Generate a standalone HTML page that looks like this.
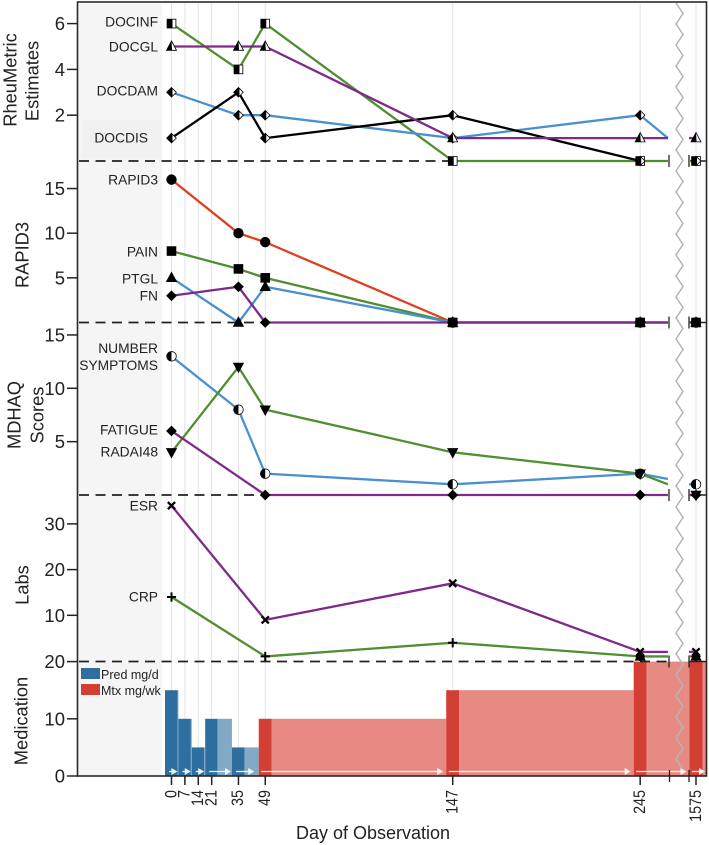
<!DOCTYPE html>
<html>
<head>
<meta charset="utf-8">
<title>Patient observation chart</title>
<style>
html,body{margin:0;padding:0;background:#fff;width:709px;height:845px;overflow:hidden}
svg{display:block}
text{font-family:"Liberation Sans",sans-serif;fill:#222}
</style>
</head>
<body>
<svg id="chart" width="709" height="845" viewBox="0 0 709 845" xmlns="http://www.w3.org/2000/svg"></svg>
<script>
// ---- Data ----
const gridDays = [0, 7, 14, 21, 35, 49, 147, 245, 1575];
const xTickLabels = ['0', '7', '14', '21', '35', '49', '147', '245', '1575'];
const obsDays = [0, 35, 49, 147, 245, 1575];
const labObsDays = [0, 49, 147, 245, 1575];
const lastDayBeforeBreak = 259.5;

const docinfValues = [6, 4, 6, 0, 0, 0];
const docglValues = [5, 5, 5, 1, 1, 1];
const docdamValues = [3, 2, 2, 1, 2, null];
const docdisValues = [1, 3, 1, 2, 0, 0];

const rapid3Values = [16, 10, 9, 0, 0, 0];
const painValues = [8, 6, 5, 0, 0, 0];
const ptglValues = [5, 0, 4, 0, 0, 0];
const fnValues = [3, 4, 0, 0, 0, 0];

const symptomsValues = [13, 8, 2, 1, 2, 1];
const radaiValues = [4, 12, 8, 4, 2, 0];
const fatigueValues = [6, null, 0, 0, 0, 0];

const esrValues = [34, 9, 17, 2, 2];
const crpValues = [14, 1, 4, 1, 1];

const predDays = [0, 7, 14, 21, 35];
const predDoses = [15, 10, 5, 10, 5];
const predEndDay = 49;
const mtxDays = [49, 147, 245, 1575];
const mtxDoses = [10, 15, 20, 20];

const rheumTicks = [6, 4, 2];
const rapidTicks = [15, 10, 5];
const mdhaqTicks = [15, 10, 5];
const labTicks = [30, 20, 10];
const medTicks = [20, 10, 0];

// ---- Scales ----
const x = d => d > 1000 ? 696 + (d - 1575) * 1.913 : 171.5 + d * 1.913;
const yRheum = v => 161 - v * 22.9;
const yRapid = v => 322.5 - v * 8.93;
const yMdhaq = v => 495 - v * 10.67;
const yLab = v => 661 - v * 4.57;
const yMed = v => 776 - v * 5.72;

const C = {green:'#4f8f2f', purple:'#7f2a8a', blue:'#4a90d0', red:'#e0401f', black:'#000'};
const svg = document.getElementById('chart');
const NS = 'http://www.w3.org/2000/svg';
function mk(tag, attrs, parent) {
  const el = document.createElementNS(NS, tag);
  for (const k in attrs) el.setAttribute(k, attrs[k]);
  (parent || svg).appendChild(el);
  return el;
}
function label(txt, px, py, size, anchor, name, rot, squeeze) {
  const el = mk('text', {x: px, y: py, 'font-size': size, 'text-anchor': anchor, 'dominant-baseline': 'central'});
  if (rot && squeeze) {
    el.setAttribute('x', 0);
    el.setAttribute('y', 0);
    el.setAttribute('transform', 'translate(' + px + ' ' + py + ') rotate(-90) scale(' + squeeze + ' 1)');
  } else if (rot) {
    el.setAttribute('transform', 'rotate(-90 ' + px + ' ' + py + ')');
  }
  el.textContent = txt;
  
  
  return el;
}

// ---- Background ----
const leftBand = mk('rect', {x: 78, y: 4, width: 84, height: 772, fill: '#f5f5f5'});


const docdisBand = mk('rect', {x: 82, y: 120, width: 80, height: 38, fill: '#f1f1f1'});



gridDays.forEach((d, i) => {
  const g = mk('line', {x1: x(d), x2: x(d), y1: 3, y2: 776, stroke: '#e4e4e4', 'stroke-width': 1});
  
  
});

// ---- Medication bars ----
const PRED_DARK = '#2f6f9f', PRED_LIGHT = '#82aac6', MTX_DARK = '#d43f33', MTX_LIGHT = '#e78a84';
const HALF = 6.5;
function bar(x0, x1, dose, fill, name) {
  const b = mk('rect', {x: x0, y: yMed(dose), width: Math.max(0, x1 - x0), height: yMed(0) - yMed(dose), fill: fill});
  
  
}
predDays.forEach((d, i) => {
  const next = i + 1 < predDays.length ? x(predDays[i + 1]) - HALF : x(predEndDay) - HALF;
  bar(x(d) - HALF, x(d) + HALF - 0.5, predDoses[i], PRED_DARK, 'pred-bar-day-' + d);
  bar(x(d) + HALF - 0.5, next, predDoses[i], PRED_LIGHT, 'pred-taper-day-' + d);
});
mtxDays.forEach((d, i) => {
  const next = i + 1 < mtxDays.length ? x(mtxDays[i + 1]) - HALF : 706;
  bar(x(d) - HALF, x(d) + HALF, mtxDoses[i], MTX_DARK, 'mtx-bar-day-' + d);
  bar(x(d) + HALF, next, mtxDoses[i], MTX_LIGHT, 'mtx-span-day-' + d);
});

// duration arrows
function arrow(x0, x1, name) {
  const g = mk('g', {});
  
  
  mk('line', {x1: x0, x2: x1 - 3, y1: 771.5, y2: 771.5, stroke: '#fff', 'stroke-width': 1.3, opacity: .9}, g);
  mk('polygon', {points: (x1 - 6) + ',768 ' + x1 + ',771.5 ' + (x1 - 6) + ',775', fill: '#fff', opacity: .9}, g);
}
predDays.forEach((d, i) => {
  const end = i + 1 < predDays.length ? x(predDays[i + 1]) - 7.5 : x(predEndDay) - 11;
  arrow(x(d) - 2.5, end, 'pred-arrow-day-' + d);
});
mtxDays.forEach((d, i) => {
  const end = i + 1 < mtxDays.length ? x(mtxDays[i + 1]) - 9.5 : 705;
  arrow(x(d) - 4, end, 'mtx-arrow-day-' + d);
});

// ---- Break squiggle ----
let zig = '';
for (let yy = 3, k = 0; yy <= 776; yy += 10.5, k++) zig += (k % 2 ? 683 : 676) + ',' + yy + ' ';
const squiggle = mk('polyline', {points: zig, fill: 'none', stroke: '#b4b4b4', 'stroke-width': 1.5});



// ---- Zero lines ----
[161, 322.5, 495, 661.5].forEach((yy, i) => {
  const g = mk('g', {});
  
  
  mk('line', {x1: 79, x2: 669, y1: yy, y2: yy, stroke: '#222', 'stroke-width': 1.8, 'stroke-dasharray': '10 6.5'}, g);
  mk('line', {x1: 689, x2: 706, y1: yy, y2: yy, stroke: '#222', 'stroke-width': 1.5}, g);
  mk('line', {x1: 669, x2: 669, y1: yy - 6, y2: yy + 6, stroke: '#222', 'stroke-width': 1.3}, g);
  mk('line', {x1: 689, x2: 689, y1: yy - 6, y2: yy + 6, stroke: '#222', 'stroke-width': 1.3}, g);
});

// ---- Marker drawing ----
function marker(kind, half, px, py, name) {
  const g = mk('g', {});
  
  
  const st = {stroke: '#000', 'stroke-width': 0.8};
  const fillWhole = half ? '#fff' : '#000';
  const s = 4.4;
  const cut = px + 1;
  if (kind === 'square') {
    mk('rect', Object.assign({x: px - s, y: py - s, width: 2 * s, height: 2 * s, fill: fillWhole}, st), g);
    if (half) mk('rect', {x: px - s, y: py - s, width: s + 1, height: 2 * s, fill: '#000'}, g);
  } else if (kind === 'triangle') {
    mk('polygon', Object.assign({points: px + ',' + (py - 5.5) + ' ' + (px + 5) + ',' + (py + 3.8) + ' ' + (px - 5) + ',' + (py + 3.8), fill: fillWhole}, st), g);
    if (half) mk('polygon', {points: px + ',' + (py - 5.5) + ' ' + (px + 0.6) + ',' + (py + 3.8) + ' ' + (px - 5) + ',' + (py + 3.8), fill: '#000'}, g);
  } else if (kind === 'down') {
    mk('polygon', Object.assign({points: px + ',' + (py + 5.5) + ' ' + (px + 5) + ',' + (py - 3.8) + ' ' + (px - 5) + ',' + (py - 3.8), fill: '#000'}, st), g);
  } else if (kind === 'diamond') {
    mk('polygon', Object.assign({points: px + ',' + (py - 4.8) + ' ' + (px + 4.8) + ',' + py + ' ' + px + ',' + (py + 4.8) + ' ' + (px - 4.8) + ',' + py, fill: fillWhole}, st), g);
    if (half) mk('polygon', {points: px + ',' + (py - 4.8) + ' ' + cut + ',' + (py - 3.8) + ' ' + cut + ',' + (py + 3.8) + ' ' + px + ',' + (py + 4.8) + ' ' + (px - 4.8) + ',' + py, fill: '#000'}, g);
  } else if (kind === 'circle') {
    mk('circle', Object.assign({cx: px, cy: py, r: 4.8, fill: fillWhole}, st), g);
    if (half) mk('path', {d: 'M' + px + ' ' + (py - 4.8) + 'A4.8 4.8 0 0 0 ' + px + ' ' + (py + 4.8) + 'Z', fill: '#000'}, g);
  } else if (kind === 'x') {
    mk('path', {d: 'M' + (px - 3.6) + ' ' + (py - 3.6) + 'L' + (px + 3.6) + ' ' + (py + 3.6) + 'M' + (px + 3.6) + ' ' + (py - 3.6) + 'L' + (px - 3.6) + ' ' + (py + 3.6), stroke: '#000', 'stroke-width': 2.3, fill: 'none'}, g);
  } else if (kind === 'plus') {
    mk('path', {d: 'M' + (px - 4.6) + ' ' + py + 'L' + (px + 4.6) + ' ' + py + 'M' + px + ' ' + (py - 4.6) + 'L' + px + ' ' + (py + 4.6), stroke: '#000', 'stroke-width': 2, fill: 'none'}, g);
  }
}

// series: days, values, y scale, tail value at the break (null for none)
function series(name, days, values, y, color, kind, half, tail) {
  const pts = [];
  days.forEach((d, i) => { if (values[i] !== null && d < 1000) pts.push([x(d), y(values[i])]); });
  if (tail !== null) pts.push([x(lastDayBeforeBreak), y(tail)]);
  const line = mk('polyline', {points: pts.map(p => p.join(',')).join(' '), fill: 'none', stroke: color, 'stroke-width': 2.3, 'stroke-linejoin': 'round'});
  
  
  const lastIdx = days.length - 1;
  if (days[lastIdx] > 1000 && values[lastIdx] !== null && tail !== null) {
    const stub = mk('line', {x1: 689, x2: x(days[lastIdx]), y1: y(values[lastIdx]), y2: y(values[lastIdx]), stroke: color, 'stroke-width': 2.3});
    
    
  }
  return () => days.forEach((d, i) => {
    if (values[i] !== null) marker(kind, half, x(d), y(values[i]), name + '-marker-day-' + d);
  });
}

const markerPainters = [
  series('docinf', obsDays, docinfValues, yRheum, C.green, 'square', true, 0),
  series('docdam', obsDays, docdamValues, yRheum, C.blue, 'diamond', true, 1),
  series('docdis', obsDays, docdisValues, yRheum, C.black, 'diamond', true, null),
  series('docgl', obsDays, docglValues, yRheum, C.purple, 'triangle', true, 1),

  series('rapid3', obsDays, rapid3Values, yRapid, C.red, 'circle', false, 0),
  series('pain', obsDays, painValues, yRapid, C.green, 'square', false, 0),
  series('ptgl', obsDays, ptglValues, yRapid, C.blue, 'triangle', false, 0),
  series('fn', obsDays, fnValues, yRapid, C.purple, 'diamond', false, 0),

  series('number-symptoms', obsDays, symptomsValues, yMdhaq, C.blue, 'circle', true, 1.5),
  series('radai48', obsDays, radaiValues, yMdhaq, C.green, 'down', false, 1),
  series('fatigue', obsDays, fatigueValues, yMdhaq, C.purple, 'diamond', false, 0),

  series('esr', labObsDays, esrValues, yLab, C.purple, 'x', false, 2),
  series('crp', labObsDays, crpValues, yLab, C.green, 'plus', false, 1)
];
markerPainters.forEach(p => p());

// extra triangle-like mark seen on the far-right lab cluster
marker('triangle', false, x(245), yLab(1), 'crp-cap-day-245');
marker('triangle', false, x(1575), yLab(1), 'crp-cap-day-1575');

// ---- Frame ----
const frame = mk('rect', {x: 77.5, y: 2, width: 629, height: 774, fill: 'none', stroke: '#2a2a2a', 'stroke-width': 1.6});



// ---- Y axes ----
function yAxis(ticks, y, name) {
  ticks.forEach(t => {
    const tk = mk('line', {x1: 67, x2: 78, y1: y(t), y2: y(t), stroke: '#222', 'stroke-width': 1.5});
    
    
    label(String(t), 65, y(t), 18.5, 'end', name + '-tick-label-' + t);
  });
}
yAxis(rheumTicks, yRheum, 'rheumetric-axis');
yAxis(rapidTicks, yRapid, 'rapid3-axis');
yAxis(mdhaqTicks, yMdhaq, 'mdhaq-axis');
yAxis(labTicks, yLab, 'labs-axis');
yAxis(medTicks, yMed, 'medication-axis');

label('RheuMetric', 10, 80, 18.3, 'middle', 'rheumetric-title-line-1', true);
label('Estimates', 32, 81, 18.3, 'middle', 'rheumetric-title-line-2', true);
label('RAPID3', 22, 255, 18.3, 'middle', 'rapid3-title', true);
label('MDHAQ', 14, 415, 18.3, 'middle', 'mdhaq-title-line-1', true);
label('Scores', 37, 415, 18.3, 'middle', 'mdhaq-title-line-2', true);
label('Labs', 22, 585, 18.3, 'middle', 'labs-title', true);
label('Medication', 21, 721, 18.3, 'middle', 'medication-title', true);

// ---- Series labels ----
const seriesLabels = [
  ['DOCINF', 158, 22], ['DOCGL', 158, 47], ['DOCDAM', 158, 91], ['DOCDIS', 148, 138],
  ['RAPID3', 158, 180], ['PAIN', 158, 252], ['PTGL', 158, 279], ['FN', 158, 296],
  ['NUMBER', 158, 348.5], ['SYMPTOMS', 158, 365.5], ['FATIGUE', 158, 430], ['RADAI48', 158, 452],
  ['ESR', 158, 506], ['CRP', 158, 597]
];
seriesLabels.forEach(s => label(s[0], s[1], s[2], 13.8, 'end', 'series-label-' + s[0].toLowerCase()));

// ---- X axis ----
gridDays.forEach((d, i) => {
  const tk = mk('line', {x1: x(d), x2: x(d), y1: 776, y2: 785, stroke: '#222', 'stroke-width': 1.5});
  
  
  label(xTickLabels[i], x(d), 790, 16.3, 'end', 'x-tick-label-' + xTickLabels[i], true, 0.88);
});
[669.5, 689].forEach((px, i) => {
  const tk = mk('line', {x1: px, x2: px, y1: 770, y2: 782, stroke: '#222', 'stroke-width': 1.3});
  
  
});
label('Day of Observation', 373, 833, 18, 'middle', 'x-axis-title');

// ---- Legend ----
const legendPred = mk('rect', {x: 81, y: 668, width: 19, height: 11, fill: PRED_DARK});


label('Pred mg/d', 101, 675, 12.5, 'start', 'legend-label-pred');
const legendMtx = mk('rect', {x: 81, y: 684, width: 19, height: 11, fill: MTX_DARK});


label('Mtx mg/wk', 101, 691, 12.5, 'start', 'legend-label-mtx');
</script>
</body>
</html>
